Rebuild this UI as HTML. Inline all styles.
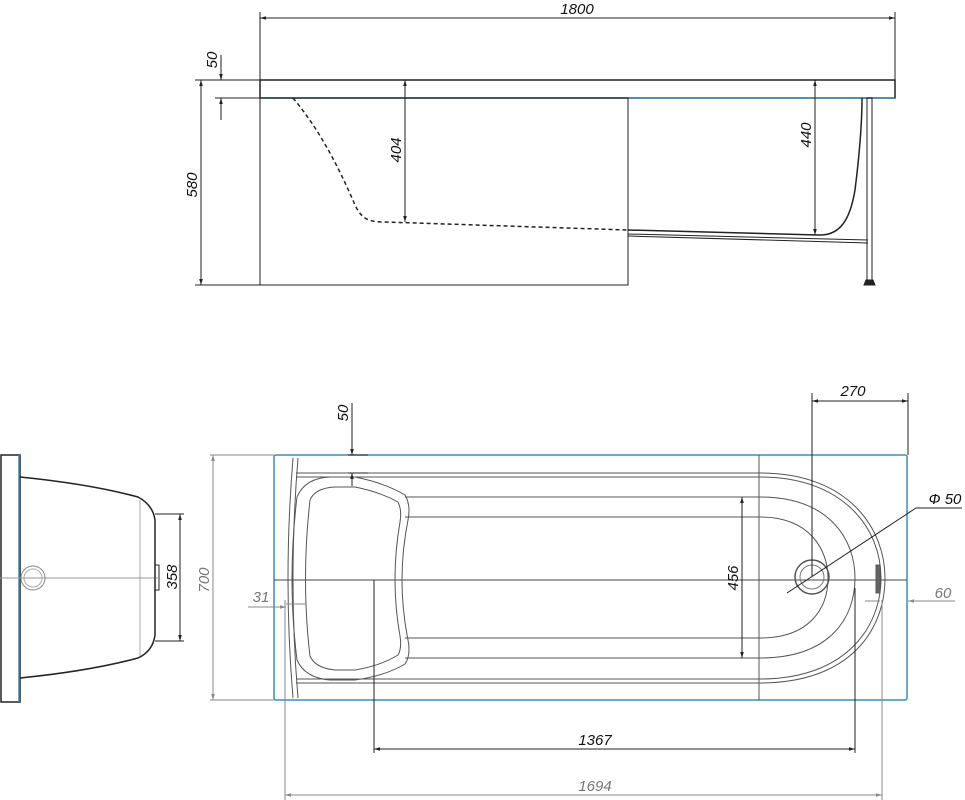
<!DOCTYPE html>
<html><head><meta charset="utf-8"><style>
html,body{margin:0;padding:0;background:#fff;}
svg{display:block;}
text{font-family:"Liberation Sans",sans-serif;font-style:italic;font-size:15px;fill:#111;}
.g{fill:#777;}
</style></head><body>
<svg width="965" height="800" viewBox="0 0 965 800" xmlns="http://www.w3.org/2000/svg">
<defs>
<marker id="a" viewBox="0 0 10 10" refX="10" refY="5" markerWidth="10" markerHeight="6" orient="auto-start-reverse" markerUnits="userSpaceOnUse"><path d="M0,2 L10,5 L0,8 z" fill="#222"/></marker>
<marker id="ag" viewBox="0 0 10 10" refX="10" refY="5" markerWidth="10" markerHeight="6" orient="auto-start-reverse" markerUnits="userSpaceOnUse"><path d="M0,2 L10,5 L0,8 z" fill="#888"/></marker>
</defs>
<g fill="none" stroke="#222" stroke-width="1">
<!-- TOP VIEW -->
<line x1="260" y1="12" x2="260" y2="285"/>
<line x1="895" y1="12" x2="895" y2="80"/>
<line x1="260" y1="18" x2="895" y2="18" marker-start="url(#a)" marker-end="url(#a)"/>
<rect x="260" y="80" width="635" height="18" stroke-width="1.5"/>
<line x1="262" y1="98" x2="895" y2="98" stroke="#3a8fb5" stroke-width="1.5"/>
<rect x="260" y="98" width="368" height="187" stroke-width="1"/>
<line x1="195" y1="80" x2="260" y2="80"/>
<line x1="195" y1="285" x2="260" y2="285"/>
<line x1="215" y1="98" x2="260" y2="98"/>
<line x1="201" y1="80" x2="201" y2="285" marker-start="url(#a)" marker-end="url(#a)"/>
<line x1="221" y1="55" x2="221" y2="80" marker-end="url(#a)"/>
<line x1="221" y1="120" x2="221" y2="98" marker-end="url(#a)"/>
<path d="M293,98 C320,130 340,170 355,205 C362,220 370,222 385,222 L628,230" stroke-dasharray="4,3" stroke-width="1.5"/>
<path d="M628,230 L818,235 C840,236 850,220 855,190 C860,150 862,120 862,98" stroke-width="1.5"/>
<path d="M628,234 L868,240 M628,236 L868,243"/>
<rect x="867" y="98" width="5" height="182"/>
<path d="M866,280 L873,280 L875,285 L864,285 z" fill="#222"/>
<line x1="405" y1="80" x2="405" y2="222" marker-start="url(#a)" marker-end="url(#a)"/>
<line x1="815" y1="80" x2="815" y2="235" marker-start="url(#a)" marker-end="url(#a)"/>

<!-- SIDE VIEW -->
<rect x="1" y="455" width="19" height="247" stroke-width="1.5"/>
<line x1="19" y1="455" x2="19" y2="702" stroke="#3a8fb5" stroke-width="1.5"/>
<path d="M20,477 Q90,484 138,497 Q153,505 155,520 L155,635 Q153,651 138,658 Q90,671 20,678" stroke-width="1.5"/>
<line x1="140" y1="500" x2="140" y2="656" stroke="#aaa"/>
<line x1="0" y1="578" x2="158" y2="578" stroke="#999"/>
<circle cx="33" cy="578" r="12" stroke="#888"/>
<circle cx="33" cy="578" r="9" stroke="#aaa"/>
<rect x="155" y="565" width="4" height="25" stroke-width="1"/>
<line x1="155" y1="514" x2="184" y2="514"/>
<line x1="155" y1="641" x2="184" y2="641"/>
<line x1="180" y1="514" x2="180" y2="641" marker-start="url(#a)" marker-end="url(#a)"/>

<!-- PLAN VIEW -->
<g stroke="#555">
<rect x="274" y="455" width="633" height="245" stroke="#3a8fb5" stroke-width="1.5" rx="2"/>
<line x1="274" y1="580" x2="907" y2="580" stroke="#444"/>
<line x1="296" y1="473" x2="760" y2="473"/>
<line x1="296" y1="477" x2="760" y2="477"/>
<line x1="296" y1="679" x2="760" y2="679"/>
<line x1="296" y1="683" x2="760" y2="683"/>
<line x1="405" y1="497" x2="760" y2="497"/>
<line x1="405" y1="517" x2="760" y2="517"/>
<line x1="405" y1="638" x2="760" y2="638"/>
<line x1="405" y1="658" x2="760" y2="658"/>
<line x1="759" y1="455" x2="759" y2="700"/>
<path d="M760,473 C850,473 885,530 885,578 C885,630 850,683 760,683"/>
<path d="M760,477 C845,477 881,530 881,578 C881,628 845,679 760,679"/>
<path d="M760,497 C830,497 855,540 855,578 C855,618 830,658 760,658"/>
<path d="M760,517 C810,517 828,550 828,578 C828,608 810,638 760,638"/>
<path d="M297,497 Q305,478 330,477 L355,477 Q385,483 405,495 Q411,505 408,520 Q396,580 408,640 Q411,655 405,664 Q385,676 355,680 L330,680 Q305,678 297,660 Q287,580 297,497"/>
<path d="M310,500 Q315,488 335,487 L355,487 Q380,492 398,502 Q402,510 400,522 Q390,580 400,636 Q402,648 398,655 Q380,666 355,670 L335,670 Q315,668 310,656 Q301,580 310,500"/>
<path d="M293,458 Q283,580 293,698"/>
<path d="M298,458 Q288,580 298,698"/>
<rect x="876" y="565" width="4" height="28" fill="#666"/>
</g>
<circle cx="812" cy="577" r="17" stroke="#555" stroke-width="1.5"/>
<circle cx="812" cy="577" r="12" stroke="#777"/>
<line x1="210" y1="455" x2="274" y2="455" stroke="#888"/>
<line x1="210" y1="700" x2="274" y2="700" stroke="#888"/>
<line x1="213" y1="455" x2="213" y2="700" stroke="#888" marker-start="url(#ag)" marker-end="url(#ag)"/>
<line x1="348" y1="455" x2="368" y2="455"/>
<line x1="348" y1="473" x2="368" y2="473"/>
<line x1="352" y1="403" x2="352" y2="455" marker-end="url(#a)"/>
<line x1="352" y1="486" x2="352" y2="473" marker-end="url(#a)"/>
<line x1="248" y1="607" x2="286" y2="607" stroke="#888" marker-end="url(#ag)"/>
<line x1="286" y1="604" x2="306" y2="604" stroke="#888"/>
<line x1="812" y1="393" x2="812" y2="577"/>
<line x1="908" y1="393" x2="908" y2="455"/>
<line x1="812" y1="401" x2="908" y2="401" marker-start="url(#a)" marker-end="url(#a)"/>
<path d="M787,593 L916,508 L962,508"/>
<line x1="742" y1="497" x2="742" y2="658" marker-start="url(#a)" marker-end="url(#a)"/>
<line x1="865" y1="601" x2="880" y2="601" stroke="#888"/>
<line x1="955" y1="601" x2="908" y2="601" stroke="#888" marker-end="url(#ag)"/>
<line x1="374" y1="580" x2="374" y2="753"/>
<line x1="855" y1="588" x2="855" y2="753"/>
<line x1="374" y1="749" x2="855" y2="749" marker-start="url(#a)" marker-end="url(#a)"/>
<line x1="285" y1="600" x2="285" y2="800" stroke="#888"/>
<line x1="882" y1="600" x2="882" y2="800" stroke="#888"/>
<line x1="285" y1="795" x2="882" y2="795" stroke="#888" marker-start="url(#ag)" marker-end="url(#ag)"/>
</g>
<text x="577" y="14" text-anchor="middle">1800</text>
<text transform="translate(217,60) rotate(-90)" text-anchor="middle">50</text>
<text transform="translate(197,185) rotate(-90)" text-anchor="middle">580</text>
<text transform="translate(401,150) rotate(-90)" text-anchor="middle">404</text>
<text transform="translate(811,135) rotate(-90)" text-anchor="middle">440</text>
<text transform="translate(177,577) rotate(-90)" text-anchor="middle">358</text>
<text class="g" transform="translate(209,580) rotate(-90)" text-anchor="middle">700</text>
<text transform="translate(348,413) rotate(-90)" text-anchor="middle">50</text>
<text class="g" x="261" y="602" text-anchor="middle">31</text>
<text x="853" y="396" text-anchor="middle">270</text>
<text x="945" y="504" text-anchor="middle">Ф 50</text>
<text transform="translate(738,578) rotate(-90)" text-anchor="middle">456</text>
<text class="g" x="943" y="598" text-anchor="middle">60</text>
<text x="595" y="745" text-anchor="middle">1367</text>
<text class="g" x="595" y="791" text-anchor="middle">1694</text>
</svg>
</body></html>
